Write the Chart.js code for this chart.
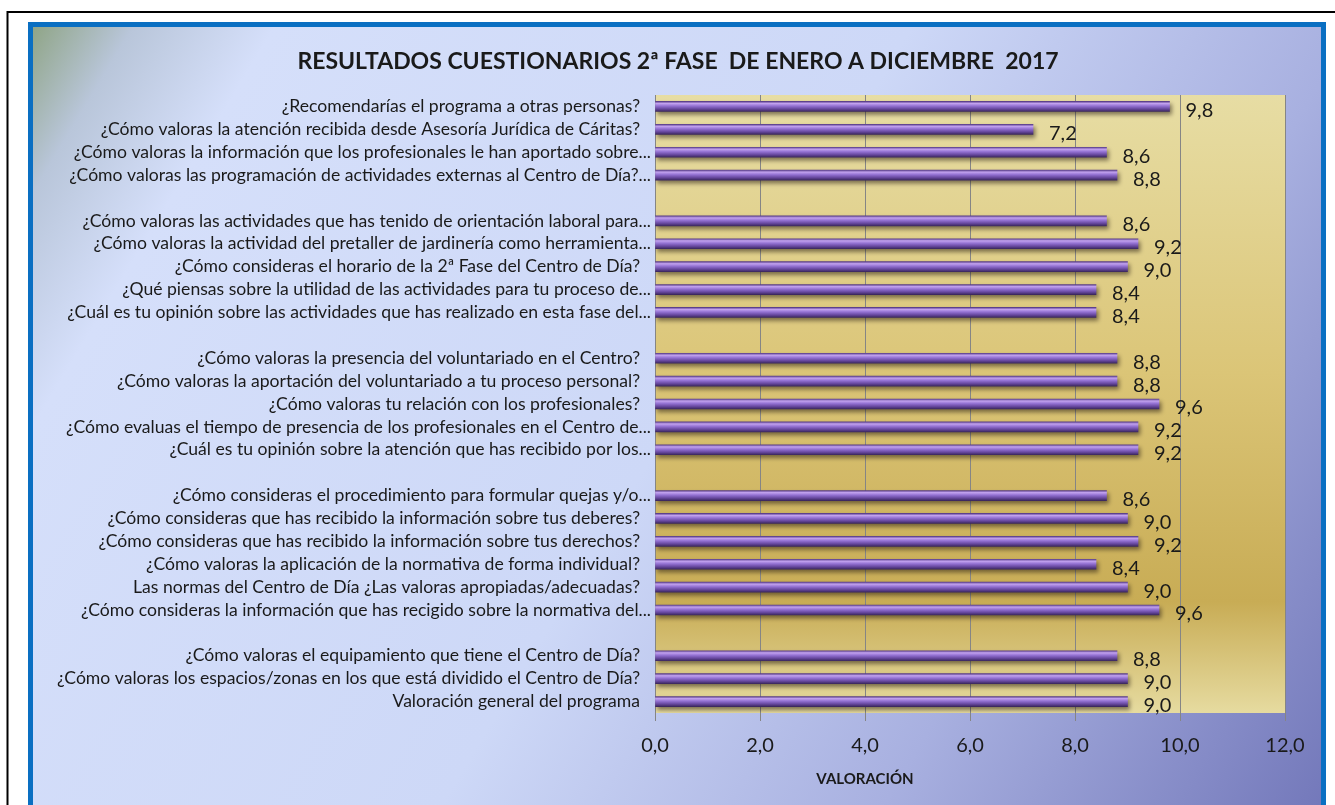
<!DOCTYPE html>
<html lang="es">
<head>
<meta charset="utf-8">
<title>Resultados cuestionarios 2ª fase 2017</title>
<script src="https://cdn.jsdelivr.net/npm/chart.js@4.4.1/dist/chart.umd.min.js"></script>
<style>
  html, body { margin: 0; padding: 0; background: #fff; }
  #wrap { width: 1335px; height: 805px; }
</style>
</head>
<body>
<div id="wrap"><canvas id="chart" width="1335" height="805"></canvas></div>
<script>
const TITLE = 'RESULTADOS CUESTIONARIOS 2ª FASE  DE ENERO A DICIEMBRE  2017';
const AXIS_TITLE = 'VALORACIÓN';

// empty strings are the blank separator rows between question groups
const categories = [
  '¿Recomendarías el programa a otras personas?',
  '¿Cómo valoras la atención recibida desde Asesoría Jurídica de Cáritas?',
  '¿Cómo valoras la información que los profesionales le han aportado sobre...',
  '¿Cómo valoras las programación de actividades externas al Centro de Día?...',
  '',
  '¿Cómo valoras las actividades que has tenido de orientación laboral para...',
  '¿Cómo valoras la actividad del pretaller de jardinería como herramienta...',
  '¿Cómo consideras el horario de la 2ª Fase del Centro de Día?',
  '¿Qué piensas sobre la utilidad de las actividades para tu proceso de...',
  '¿Cuál es tu opinión sobre las actividades que has realizado en esta fase del...',
  '',
  '¿Cómo valoras la presencia del voluntariado en el Centro?',
  '¿Cómo valoras la aportación del voluntariado a tu proceso personal?',
  '¿Cómo valoras tu relación con los profesionales?',
  '¿Cómo evaluas el tiempo de presencia de los profesionales en el Centro de...',
  '¿Cuál es tu opinión sobre la atención que has recibido por los...',
  '',
  '¿Cómo consideras el procedimiento para formular quejas y/o...',
  '¿Cómo consideras que has recibido la información sobre tus deberes?',
  '¿Cómo consideras que has recibido la información sobre tus derechos?',
  '¿Cómo valoras la aplicación de la normativa de forma individual?',
  'Las normas del Centro de Día ¿Las valoras apropiadas/adecuadas?',
  '¿Cómo consideras la información que has recigido sobre la normativa del...',
  '',
  '¿Cómo valoras el equipamiento que tiene el Centro de Día?',
  '¿Cómo valoras los espacios/zonas en los que está dividido el Centro de Día?',
  'Valoración general del programa'
];

const valoracion = [
  9.8, 7.2, 8.6, 8.8,
  null,
  8.6, 9.2, 9.0, 8.4, 8.4,
  null,
  8.8, 8.8, 9.6, 9.2, 9.2,
  null,
  8.6, 9.0, 9.2, 8.4, 9.0, 9.6,
  null,
  8.8, 9.0, 9.0
];

const xTicks = [0, 2, 4, 6, 8, 10, 12];

const fmt = v => v.toFixed(1).replace('.', ',');
const TEXT = '#1a1a1a';

// frame, blue border, gradient backgrounds, titles, value labels
const backdrop = {
  id: 'backdrop',
  beforeDraw(chart) {
    const { ctx, chartArea: a } = chart;
    ctx.save();
    ctx.fillStyle = '#ffffff';
    ctx.fillRect(0, 0, chart.width, chart.height);

    ctx.strokeStyle = '#000';
    ctx.lineWidth = 2;
    ctx.beginPath();
    ctx.moveTo(1335, 12);
    ctx.lineTo(7.5, 12);
    ctx.lineTo(7.5, 805);
    ctx.stroke();

    const bg = ctx.createLinearGradient(30, 22, 1326, 805);
    bg.addColorStop(0, '#8da382');
    bg.addColorStop(0.06, '#b9c6da');
    bg.addColorStop(0.14, '#d5dffa');
    bg.addColorStop(0.5, '#cdd8f7');
    bg.addColorStop(0.75, '#a8b0e0');
    bg.addColorStop(1, '#7378ba');
    ctx.fillStyle = bg;
    ctx.fillRect(30, 24, 1294, 781);

    ctx.strokeStyle = '#0a6fc2';
    ctx.lineWidth = 5;
    ctx.beginPath();
    ctx.moveTo(30.5, 805);
    ctx.lineTo(30.5, 24.5);
    ctx.lineTo(1323.5, 24.5);
    ctx.lineTo(1323.5, 805);
    ctx.stroke();

    const pg = ctx.createLinearGradient(0, a.top, 0, a.bottom);
    pg.addColorStop(0, '#e7dda4');
    pg.addColorStop(0.45, '#dbc577');
    pg.addColorStop(0.82, '#c8ac55');
    pg.addColorStop(1, '#e6dba0');
    ctx.fillStyle = pg;
    ctx.fillRect(a.left, a.top, a.right - a.left, a.bottom - a.top);
    ctx.restore();
  },
  beforeDatasetsDraw(chart) {
    const ctx = chart.ctx;
    ctx.save();
    ctx.shadowColor = 'rgba(40, 30, 20, 0.55)';
    ctx.shadowBlur = 4;
    ctx.shadowOffsetX = 2;
    ctx.shadowOffsetY = 3;
  },
  afterDatasetsDraw(chart) {
    const ctx = chart.ctx;
    ctx.restore();
    // value labels right of each bar
    ctx.save();
    ctx.font = '20px Lato';
    ctx.fillStyle = TEXT;
    ctx.textAlign = 'left';
    ctx.textBaseline = 'middle';
    chart.getDatasetMeta(0).data.forEach((bar, i) => {
      const v = valoracion[i];
      if (v == null) return;
      ctx.fillText(fmt(v), bar.x + 16, bar.y + 4);
    });
    ctx.restore();
  },
  afterDraw(chart) {
    const ctx = chart.ctx;
    ctx.save();
    ctx.fillStyle = TEXT;
    ctx.textAlign = 'center';
    ctx.textBaseline = 'middle';
    ctx.font = 'bold 23px Lato';
    ctx.fillText(TITLE, 678, 62);
    ctx.font = 'bold 15px Lato';
    ctx.fillText(AXIS_TITLE, 865, 779);
    ctx.restore();
  }
};

function barFill(c) {
  const sc = c.chart.scales.y;
  const y = sc ? sc.getPixelForValue(c.dataIndex) : NaN;
  if (!isFinite(y)) return '#8a66c8';
  const g = c.chart.ctx.createLinearGradient(0, y - 5, 0, y + 5);
  g.addColorStop(0, '#5a3e8a');
  g.addColorStop(0.2, '#c2a2ef');
  g.addColorStop(0.45, '#9472d3');
  g.addColorStop(0.75, '#66479e');
  g.addColorStop(1, '#3c285f');
  return g;
}

new Chart(document.getElementById('chart'), {
  type: 'bar',
  data: {
    labels: categories,
    datasets: [{
      data: valoracion,
      backgroundColor: barFill,
      borderWidth: 0,
      barThickness: 10
    }]
  },
  options: {
    indexAxis: 'y',
    responsive: false,
    animation: false,
    layout: { padding: { left: 35, right: 50, top: 95, bottom: 0 } },
    plugins: {
      legend: { display: false },
      tooltip: { enabled: false },
      title: { display: false }
    },
    scales: {
      x: {
        min: 0,
        max: 12,
        afterBuildTicks: s => { s.ticks = xTicks.map(v => ({ value: v })); },
        afterFit: s => { s.height = 92; },
        grid: { color: '#858585', lineWidth: 1, tickLength: 8, drawTicks: true },
        border: { display: false },
        ticks: {
          color: TEXT,
          padding: 13,
          font: { family: 'Lato', size: 20 },
          callback: v => fmt(v)
        }
      },
      y: {
        afterFit: s => { s.width = 620; },
        grid: { display: false, drawTicks: false },
        border: { display: false },
        ticks: {
          color: TEXT,
          padding: 4,
          autoSkip: false,
          font: { family: 'Lato', size: 17.6 },
          callback: function (v) {
            const l = categories[v];
            if (!l) return '';
            return l.endsWith('...') ? l : l + '\u2002\u2009';
          }
        }
      }
    }
  },
  plugins: [backdrop]
});
</script>
</body>
</html>
